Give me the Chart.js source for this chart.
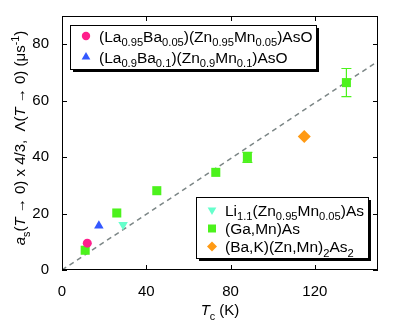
<!DOCTYPE html>
<html><head><meta charset="utf-8">
<script src="https://cdn.jsdelivr.net/npm/chart.js@4.4.1/dist/chart.umd.min.js"></script>
<style>html,body{margin:0;padding:0;background:#fff}#wrap{width:415px;height:322px}</style>
</head><body><div id="wrap"><canvas id="c" width="415" height="322"></canvas></div>
<script>
// valores
const xTicks = [0, 40, 80, 120];
const yTicks = [0, 20, 40, 60, 80];
const tcLaBa005 = [12];   const valLaBa005 = [9.5];
const tcLaBa01 = [17.5];  const valLaBa01 = [15.7];
const tcLi = [29];        const valLi = [16];
const tcGaMn = [11, 26, 45, 73, 88, 135];
const valGaMn = [7, 20.2, 28.1, 34.6, 39.9, 66.4];
const errGaMn = [0, 0, 0, 0, 1.8, 5];
const tcBaK = [115];      const valBaK = [47.3];
const fitX = [0, 150];    const fitY = [0, 74];

const FONT = '"Liberation Sans", Arial, sans-serif';
const PINK = '#ff1f8c', BLUE = '#3358ff', CYAN = '#66ffcc', GREEN = '#4cf21c', ORANGE = '#ff9a14';

function pts(xs, ys) { return xs.map((x, i) => ({x: x, y: ys[i]})); }

// texto con subindices / cursiva
function segFont(f, size) {
  let s = (f.includes('b') || f.includes('p')) ? size * 0.72 : size;
  return (f.includes('i') ? 'italic ' : '') + s + 'px ' + FONT;
}
function richWidth(ctx, segs, size) {
  let w = 0;
  segs.forEach(s => { ctx.font = segFont(s[1], size); w += ctx.measureText(s[0]).width; });
  return w;
}
function drawRich(ctx, segs, x, y, size, align) {
  let w = richWidth(ctx, segs, size);
  let cx = align === 'center' ? x - w / 2 : x;
  ctx.textBaseline = 'alphabetic';
  ctx.textAlign = 'left';
  segs.forEach(s => {
    ctx.font = segFont(s[1], size);
    let dy = s[1].includes('b') ? size * 0.3 : (s[1].includes('p') ? -size * 0.42 : 0);
    ctx.fillText(s[0], cx, y + dy);
    cx += ctx.measureText(s[0]).width;
  });
}

function marker(ctx, type, x, y, r, color) {
  ctx.fillStyle = color;
  ctx.beginPath();
  if (type === 'circle') ctx.arc(x, y, r, 0, Math.PI * 2);
  else if (type === 'square') ctx.rect(x - r, y - r, 2 * r, 2 * r);
  else if (type === 'up') { ctx.moveTo(x, y - r); ctx.lineTo(x + r * 0.87, y + r * 0.5); ctx.lineTo(x - r * 0.87, y + r * 0.5); }
  else if (type === 'down') { ctx.moveTo(x, y + r); ctx.lineTo(x + r * 0.87, y - r * 0.5); ctx.lineTo(x - r * 0.87, y - r * 0.5); }
  else if (type === 'diamond') { ctx.moveTo(x, y - r); ctx.lineTo(x + r, y); ctx.lineTo(x, y + r); ctx.lineTo(x - r, y); }
  ctx.closePath();
  ctx.fill();
}

function legendBox(ctx, x, y, w, h, rows) {
  ctx.fillStyle = '#000';
  ctx.fillRect(x + 3, y + 3, w, h);
  ctx.fillStyle = '#fff';
  ctx.fillRect(x, y, w, h);
  ctx.strokeStyle = '#000';
  ctx.lineWidth = 1;
  ctx.strokeRect(x + 0.5, y + 0.5, w, h);
  rows.forEach(r => {
    marker(ctx, r.type, r.mx, r.my, r.r, r.color);
    ctx.fillStyle = '#000';
    drawRich(ctx, r.text, r.mx + 13, r.my + 5.5, 15.5, 'left');
  });
}

const framePlugin = {
  id: 'frame',
  beforeDatasetsDraw(chart) {
    const ctx = chart.ctx, xs = chart.scales.x, ys = chart.scales.y;
    ctx.save();
    ctx.strokeStyle = GREEN;
    ctx.lineWidth = 1.2;
    tcGaMn.forEach((t, i) => {
      if (!errGaMn[i]) return;
      let px = xs.getPixelForValue(t);
      let top = ys.getPixelForValue(valGaMn[i] + errGaMn[i]);
      let bot = ys.getPixelForValue(valGaMn[i] - errGaMn[i]);
      ctx.beginPath();
      ctx.moveTo(px, top); ctx.lineTo(px, bot);
      ctx.moveTo(px - 5, top); ctx.lineTo(px + 5, top);
      ctx.moveTo(px - 5, bot); ctx.lineTo(px + 5, bot);
      ctx.stroke();
    });
    ctx.restore();
  },
  afterDraw(chart) {
    const ctx = chart.ctx, a = chart.chartArea, xs = chart.scales.x, ys = chart.scales.y;
    ctx.save();
    ctx.strokeStyle = '#000';
    ctx.lineWidth = 1;
    ctx.strokeRect(a.left + 0.5, a.top + 0.5, a.right - a.left - 1, a.bottom - a.top - 1);
    ctx.beginPath();
    xTicks.forEach(t => {
      let px = Math.round(xs.getPixelForValue(t)) + 0.5;
      ctx.moveTo(px, a.bottom); ctx.lineTo(px, a.bottom - 5);
      ctx.moveTo(px, a.top); ctx.lineTo(px, a.top + 5);
    });
    yTicks.forEach(t => {
      let py = Math.round(ys.getPixelForValue(t)) + 0.5;
      ctx.moveTo(a.left, py); ctx.lineTo(a.left + 5, py);
      ctx.moveTo(a.right, py); ctx.lineTo(a.right - 5, py);
    });
    ctx.stroke();

    legendBox(ctx, 70, 25, 246, 44, [
      {type: 'circle', mx: 86, my: 36, r: 4.2, color: PINK,
       text: [['(La', ''], ['0.95', 'b'], ['Ba', ''], ['0.05', 'b'], [')(Zn', ''], ['0.95', 'b'], ['Mn', ''], ['0.05', 'b'], [')AsO', '']]},
      {type: 'up', mx: 86, my: 57, r: 5, color: BLUE,
       text: [['(La', ''], ['0.9', 'b'], ['Ba', ''], ['0.1', 'b'], [')(Zn', ''], ['0.9', 'b'], ['Mn', ''], ['0.1', 'b'], [')AsO', '']]}
    ]);
    legendBox(ctx, 196, 197, 172, 61, [
      {type: 'down', mx: 212, my: 210, r: 5, color: CYAN,
       text: [['Li', ''], ['1.1', 'b'], ['(Zn', ''], ['0.95', 'b'], ['Mn', ''], ['0.05', 'b'], [')As', '']]},
      {type: 'square', mx: 212, my: 228.5, r: 4, color: GREEN,
       text: [['(Ga,Mn)As', '']]},
      {type: 'diamond', mx: 212, my: 246.5, r: 5, color: ORANGE,
       text: [['(Ba,K)(Zn,Mn)', ''], ['2', 'b'], ['As', ''], ['2', 'b']]}
    ]);

    ctx.fillStyle = '#000';
    drawRich(ctx, [['T', 'i'], ['c', 'b'], [' (K)', '']], (a.left + a.right) / 2, 315, 15, 'center');
    ctx.translate(25, 138);
    ctx.rotate(-Math.PI / 2);
    drawRich(ctx, [['a', 'i'], ['s', 'b'], ['(', ''], ['T', 'i'], [' \u2192 0) x 4/3,  \u039B(', ''], ['T', 'i'], [' \u2192 0) (\u03BCs', ''], ['-1', 'p'], [')', '']], 0, 0, 15, 'center');
    ctx.restore();
  }
};

new Chart(document.getElementById('c'), {
  type: 'scatter',
  data: {
    datasets: [
      {label: 'LaBa005', data: pts(tcLaBa005, valLaBa005), pointStyle: 'circle', pointRadius: 4.5, backgroundColor: PINK, borderWidth: 0},
      {label: 'LaBa01', data: pts(tcLaBa01, valLaBa01), pointStyle: 'triangle', pointRadius: 5.5, backgroundColor: BLUE, borderWidth: 0},
      {label: 'Li', data: pts(tcLi, valLi), pointStyle: 'triangle', rotation: 180, pointRadius: 5.5, backgroundColor: CYAN, borderWidth: 0},
      {label: 'GaMn', data: pts(tcGaMn, valGaMn), pointStyle: 'rect', pointRadius: 6.4, backgroundColor: GREEN, borderWidth: 0},
      {label: 'BaK', data: pts(tcBaK, valBaK), pointStyle: 'rectRot', pointRadius: 6.5, backgroundColor: ORANGE, borderWidth: 0},
      {label: 'fit', type: 'line', data: pts(fitX, fitY), borderColor: '#7c8686', borderWidth: 1.5, borderDash: [5, 4], pointRadius: 0, fill: false}
    ]
  },
  options: {
    responsive: false,
    devicePixelRatio: 1,
    animation: false,
    layout: {padding: {top: 16, right: 37, left: 0, bottom: 0}},
    plugins: {legend: {display: false}, tooltip: {enabled: false}},
    scales: {
      x: {
        type: 'linear', min: 0, max: 150,
        afterBuildTicks: s => { s.ticks = xTicks.map(v => ({value: v})); },
        afterFit: s => { s.height = 52; },
        grid: {display: false}, border: {display: false},
        ticks: {color: '#000', padding: 5, font: {size: 15, family: FONT}, maxRotation: 0}
      },
      y: {
        type: 'linear', min: 0, max: 90,
        afterBuildTicks: s => { s.ticks = yTicks.map(v => ({value: v})); },
        afterFit: s => { s.width = 62; },
        grid: {display: false}, border: {display: false},
        ticks: {color: '#000', padding: 5, font: {size: 15, family: FONT}}
      }
    }
  },
  plugins: [framePlugin]
});
</script>
</body></html>
